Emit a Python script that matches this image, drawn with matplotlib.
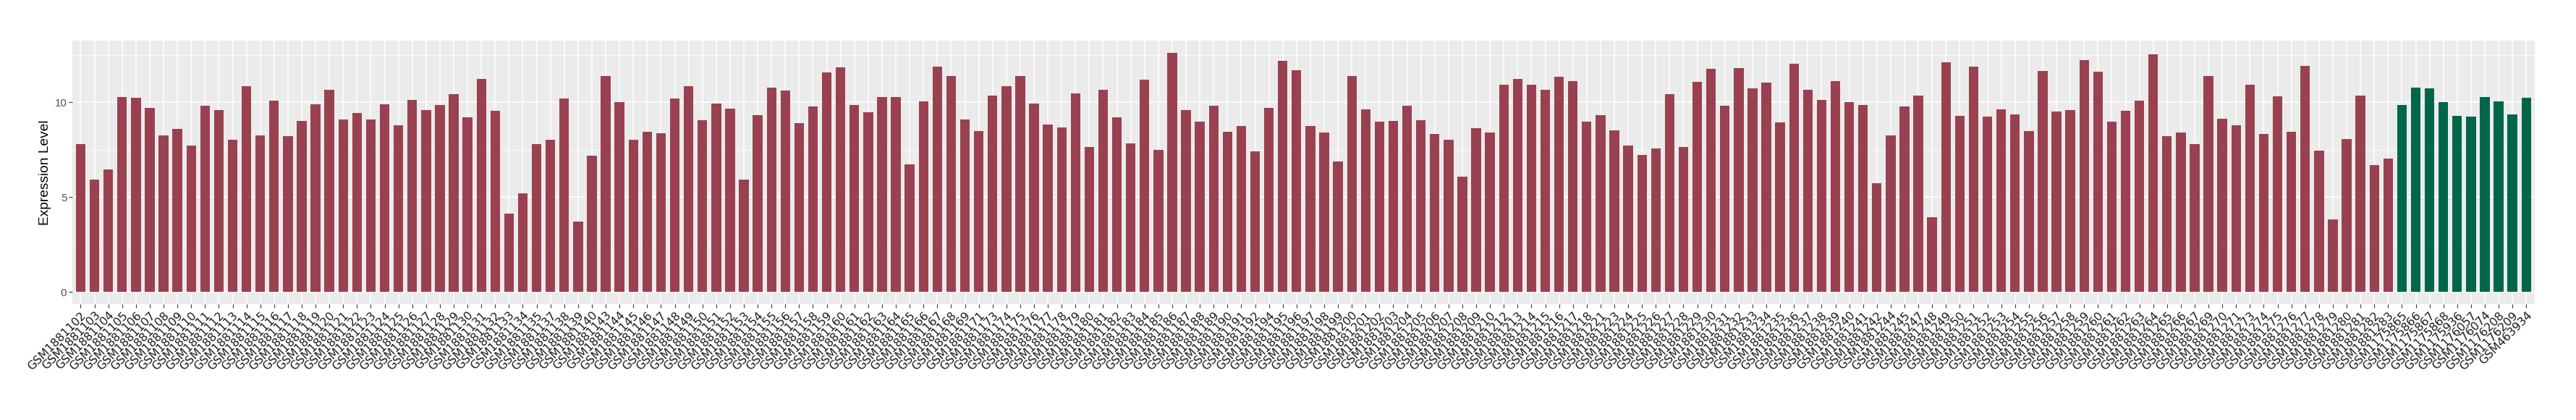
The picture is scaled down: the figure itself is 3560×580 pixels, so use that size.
import matplotlib
matplotlib.use("Agg")
import matplotlib.pyplot as plt
import numpy as np

# sample ids (tumour group, shown in red)
red_ids = [
    "GSM1881102", "GSM1881103", "GSM1881104", "GSM1881105", "GSM1881106", "GSM1881107",
    "GSM1881108", "GSM1881109", "GSM1881110", "GSM1881111", "GSM1881112", "GSM1881113",
    "GSM1881114", "GSM1881115", "GSM1881116", "GSM1881117", "GSM1881118", "GSM1881119",
    "GSM1881120", "GSM1881121", "GSM1881122", "GSM1881123", "GSM1881124", "GSM1881125",
    "GSM1881126", "GSM1881127", "GSM1881128", "GSM1881129", "GSM1881130", "GSM1881131",
    "GSM1881132", "GSM1881133", "GSM1881134", "GSM1881135", "GSM1881137", "GSM1881138",
    "GSM1881139", "GSM1881140", "GSM1881143", "GSM1881144", "GSM1881145", "GSM1881146",
    "GSM1881147", "GSM1881148", "GSM1881149", "GSM1881150", "GSM1881151", "GSM1881152",
    "GSM1881153", "GSM1881154", "GSM1881155", "GSM1881156", "GSM1881157", "GSM1881158",
    "GSM1881159", "GSM1881160", "GSM1881161", "GSM1881162", "GSM1881163", "GSM1881164",
    "GSM1881165", "GSM1881166", "GSM1881167", "GSM1881168", "GSM1881169", "GSM1881171",
    "GSM1881173", "GSM1881174", "GSM1881175", "GSM1881176", "GSM1881177", "GSM1881178",
    "GSM1881179", "GSM1881180", "GSM1881181", "GSM1881182", "GSM1881183", "GSM1881184",
    "GSM1881185", "GSM1881186", "GSM1881187", "GSM1881188", "GSM1881189", "GSM1881190",
    "GSM1881191", "GSM1881192", "GSM1881194", "GSM1881195", "GSM1881196", "GSM1881197",
    "GSM1881198", "GSM1881199", "GSM1881200", "GSM1881201", "GSM1881202", "GSM1881203",
    "GSM1881204", "GSM1881205", "GSM1881206", "GSM1881207", "GSM1881208", "GSM1881209",
    "GSM1881210", "GSM1881212", "GSM1881213", "GSM1881214", "GSM1881215", "GSM1881216",
    "GSM1881217", "GSM1881218", "GSM1881221", "GSM1881223", "GSM1881224", "GSM1881225",
    "GSM1881226", "GSM1881227", "GSM1881228", "GSM1881229", "GSM1881230", "GSM1881231",
    "GSM1881232", "GSM1881233", "GSM1881234", "GSM1881235", "GSM1881236", "GSM1881237",
    "GSM1881238", "GSM1881239", "GSM1881240", "GSM1881241", "GSM1881242", "GSM1881244",
    "GSM1881245", "GSM1881247", "GSM1881248", "GSM1881249", "GSM1881250", "GSM1881251",
    "GSM1881252", "GSM1881253", "GSM1881254", "GSM1881255", "GSM1881256", "GSM1881257",
    "GSM1881258", "GSM1881259", "GSM1881260", "GSM1881261", "GSM1881262", "GSM1881263",
    "GSM1881264", "GSM1881265", "GSM1881266", "GSM1881267", "GSM1881269", "GSM1881270",
    "GSM1881271", "GSM1881273", "GSM1881274", "GSM1881275", "GSM1881276", "GSM1881277",
    "GSM1881278", "GSM1881279", "GSM1881280", "GSM1881281", "GSM1881282", "GSM1881283",
]
red_vals = [
    7.79, 5.91, 6.45, 10.29, 10.23, 9.71, 8.27, 8.60, 7.71, 9.82, 9.59, 8.04,
    10.85, 8.27, 10.08, 8.20, 9.01, 9.89, 10.66, 9.11, 9.45, 9.11, 9.89, 8.78,
    10.11, 9.59, 9.85, 10.44, 9.22, 11.22, 9.56, 4.13, 5.21, 7.79, 8.01, 10.19,
    3.72, 7.19, 11.40, 10.00, 8.04, 8.45, 8.37, 10.19, 10.85, 9.05, 9.92, 9.67,
    5.91, 9.34, 10.78, 10.62, 8.89, 9.78, 11.59, 11.84, 9.85, 9.48, 10.29, 10.29,
    6.72, 10.04, 11.88, 11.40, 9.09, 8.49, 10.37, 10.85, 11.37, 9.92, 8.82, 8.68,
    10.48, 7.64, 10.66, 9.19, 7.83, 11.18, 7.50, 12.62, 9.59, 8.97, 9.82, 8.45,
    8.74, 7.42, 9.71, 12.17, 11.70, 8.74, 8.41, 6.90, 11.40, 9.63, 8.97, 9.01,
    9.82, 9.05, 8.34, 8.04, 6.09, 8.64, 8.41, 10.93, 11.22, 10.93, 10.66, 11.33,
    11.11, 8.97, 9.34, 8.53, 7.71, 7.23, 7.56, 10.44, 7.64, 11.07, 11.77, 9.82,
    11.80, 10.74, 11.03, 8.93, 12.03, 10.66, 10.11, 11.11, 10.00, 9.85, 5.72, 8.27,
    9.78, 10.37, 3.95, 12.11, 9.30, 11.88, 9.26, 9.63, 9.38, 8.49, 11.66, 9.52,
    9.59, 12.21, 11.63, 8.97, 9.56, 10.08, 12.54, 8.23, 8.41, 7.79, 11.37, 9.15,
    8.78, 10.93, 8.34, 10.33, 8.45, 11.92, 7.46, 3.84, 8.08, 10.37, 6.68, 7.05,
]

# normal group, shown in green
green_ids = [
    "GSM1175865", "GSM1175866", "GSM1175867", "GSM1175868", "GSM1175936",
    "GSM1176057", "GSM1176074", "GSM1176208", "GSM1176209", "GSM463934",
]
green_vals = [9.85, 10.78, 10.74, 10.00, 9.30, 9.26, 10.29, 10.04, 9.38, 10.23]

red_col = "#9A4151"
green_col = "#00664A"

labels = red_ids + green_ids
vals = red_vals + green_vals
colors = [red_col] * len(red_ids) + [green_col] * len(green_ids)
x = np.arange(len(labels))

fig = plt.figure(figsize=(35.6, 5.8), dpi=100)
ax = fig.add_axes([0.02809, 0.27586, 0.95582, 0.62759])
ax.set_facecolor("#EBEBEB")

ax.bar(x, vals, width=0.7, color=colors, zorder=3)

# ggplot-like limits and grid
ymax = max(vals)
ax.set_ylim(-0.05 * ymax, ymax * 1.05)
ax.set_xlim(-0.6, len(labels) - 1 + 0.6)
ax.set_yticks([0, 5, 10])
ax.set_yticks([2.5, 7.5, 12.5], minor=True)
ax.set_xticks(x)
ax.grid(which="major", color="white", linewidth=1.1, zorder=0)
ax.grid(which="minor", axis="y", color="white", linewidth=0.55, zorder=0)
for s in ax.spines.values():
    s.set_visible(False)

ax.tick_params(axis="both", which="major", length=3.5, width=0.8, color="#333333")
ax.tick_params(axis="y", which="minor", length=0)
ax.tick_params(axis="y", pad=2)
ax.tick_params(axis="x", pad=2)

ax.set_yticklabels(["0", "5", "10"], family="Liberation Sans", fontsize=10.8, color="#4D4D4D")
ax.set_xticklabels(labels, rotation=45, ha="right", va="top", rotation_mode="anchor",
                   family="DejaVu Sans", fontsize=11.4, color="#1A1A1A")

ax.set_ylabel("Expression Level", family="Liberation Sans", fontsize=13.8, labelpad=3)

fig.savefig("out.png", dpi=100)
